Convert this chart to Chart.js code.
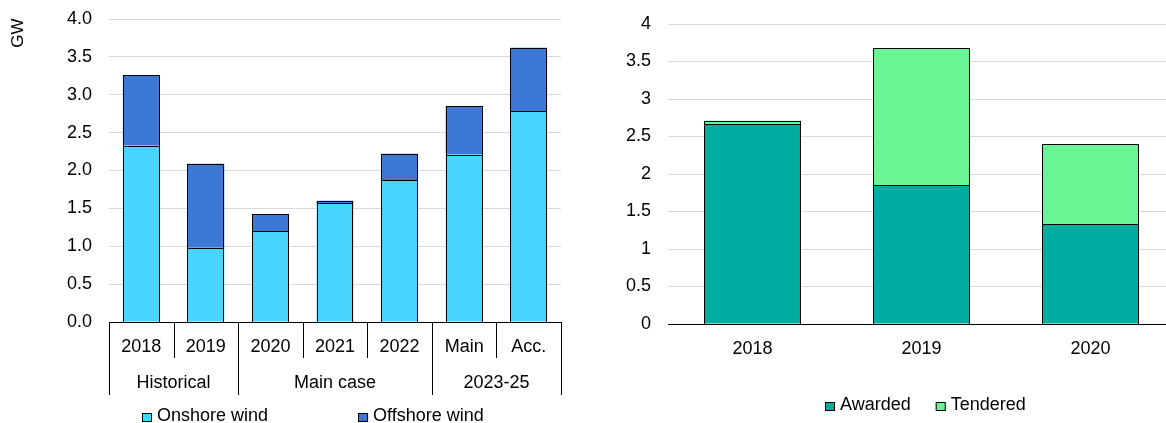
<!DOCTYPE html>
<html>
<head>
<meta charset="utf-8">
<title>Wind capacity and auctions</title>
<script src="https://cdn.jsdelivr.net/npm/chart.js@4.4.1/dist/chart.umd.min.js"></script>
<style>
    html, body { margin: 0; padding: 0; background: #fff; overflow: hidden; }
    body { width: 1166px; height: 423px; position: relative; }
    #windBox { position: absolute; left: 0; top: 0; width: 580px; height: 423px; }
    #auctionBox { position: absolute; left: 600px; top: 0; width: 600px; height: 423px; }
</style>
</head>
<body>
<div id="windBox"><canvas id="windChart"></canvas></div>
<div id="auctionBox"><canvas id="auctionChart"></canvas></div>
<script>
// Wind additions (GW)
const windCategories = ['2018', '2019', '2020', '2021', '2022', 'Main', 'Acc.'];
const windGroups = ['Historical', 'Main case', '2023-25'];
const windGroupSizes = [2, 3, 2];
const onshoreWind = [2.33, 0.98, 1.20, 1.57, 1.87, 2.21, 2.78];
const offshoreWind = [0.93, 1.11, 0.22, 0.03, 0.35, 0.64, 0.84];

// Auction volumes (GW)
const auctionYears = ['2018', '2019', '2020'];
const awarded = [2.66, 1.85, 1.33];
const tendered = [0.05, 1.83, 1.07];

const FONT = "'Liberation Sans', Arial, sans-serif";

// Crisp black outline around every bar segment
const barOutline = {
    id: 'barOutline',
    afterDatasetsDraw(chart) {
        const ctx = chart.ctx;
        ctx.save();
        ctx.strokeStyle = '#000';
        ctx.lineWidth = 1;
        chart.data.datasets.forEach(function(ds, i) {
            chart.getDatasetMeta(i).data.forEach(function(bar) {
                const p = bar.getProps(['x', 'y', 'base', 'width'], true);
                const left = Math.round(p.x - p.width / 2) + 0.5;
                const right = Math.round(p.x + p.width / 2) - 0.5;
                const top = Math.round(Math.min(p.y, p.base)) + 0.5;
                const bottom = Math.round(Math.max(p.y, p.base)) + 0.5;
                ctx.strokeRect(left, top, right - left, bottom - top);
            });
        });
        ctx.restore();
    }
};

// Two-row category axis: separators plus group names under the years
const groupAxis = {
    id: 'groupAxis',
    afterDraw(chart) {
        const x = chart.scales.x;
        const ctx = chart.ctx;
        const half = (x.getPixelForValue(1) - x.getPixelForValue(0)) / 2;
        const top = x.top;

        const edges = [0];
        let n = 0;
        windGroupSizes.forEach(function(s) { n += s; edges.push(n); });

        ctx.save();
        ctx.strokeStyle = '#000';
        ctx.lineWidth = 1;
        for (let i = 0; i <= windCategories.length; i++) {
            const px = Math.round(x.getPixelForValue(i) - half) + 0.5;
            const bottom = edges.includes(i) ? top + 73 : top + 36;
            ctx.beginPath();
            ctx.moveTo(px, top);
            ctx.lineTo(px, bottom);
            ctx.stroke();
        }

        ctx.fillStyle = '#000';
        ctx.font = '18px ' + FONT;
        ctx.textAlign = 'center';
        ctx.textBaseline = 'middle';
        let start = 0;
        windGroups.forEach(function(g, k) {
            const end = start + windGroupSizes[k];
            const cx = (x.getPixelForValue(start) + x.getPixelForValue(end - 1)) / 2;
            ctx.fillText(g, cx, top + 61);
            start = end;
        });
        ctx.restore();
    }
};

// Unit label in the top-left corner
const unitLabel = {
    id: 'unitLabel',
    afterDraw(chart, args, opts) {
        const ctx = chart.ctx;
        ctx.save();
        ctx.translate(opts.x, opts.y);
        ctx.rotate(-Math.PI / 2);
        ctx.fillStyle = '#000';
        ctx.font = '17px ' + FONT;
        ctx.textAlign = 'center';
        ctx.textBaseline = 'middle';
        ctx.fillText(opts.text, 0, 0);
        ctx.restore();
    }
};

// Small square legend in one row
const boxLegend = {
    id: 'boxLegend',
    afterDraw(chart, args, opts) {
        const ctx = chart.ctx;
        let x = opts.x;
        ctx.save();
        ctx.font = '18px ' + FONT;
        ctx.textBaseline = 'middle';
        ctx.textAlign = 'left';
        chart.data.datasets.forEach(function(ds) {
            ctx.fillStyle = ds.backgroundColor;
            ctx.fillRect(x, opts.y - 4, 10, 9);
            ctx.strokeStyle = '#000';
            ctx.lineWidth = 1;
            ctx.strokeRect(x + 0.5, opts.y - 3.5, 9, 8);
            ctx.fillStyle = '#000';
            ctx.fillText(ds.label, x + 15, opts.y - 1);
            x += 15 + ctx.measureText(ds.label).width + opts.gap;
        });
        ctx.restore();
    }
};

function stackedBarOptions(cfg) {
    return {
        responsive: true,
        maintainAspectRatio: false,
        animation: false,
        layout: {
            padding: { left: 0, right: cfg.right, top: cfg.top, bottom: cfg.bottom }
        },
        scales: {
            x: {
                stacked: true,
                grid: { display: false, drawTicks: false },
                border: { color: '#000', width: 1 },
                ticks: { padding: 14, maxRotation: 0, autoSkip: false, color: '#000' },
                afterFit: function(scale) { scale.height = 60; }
            },
            y: {
                stacked: true,
                min: 0,
                max: 4,
                grid: { color: '#d9d9d9', lineWidth: 1, drawTicks: false },
                border: { display: false },
                ticks: {
                    stepSize: 0.5,
                    padding: 17,
                    color: '#000',
                    callback: cfg.tickFormat
                },
                afterFit: function(scale) {
                    // fixed axis width; the top label may sit in the layout padding
                    scale.width = cfg.axisWidth;
                    scale.paddingTop = 0;
                    scale.paddingBottom = 0;
                }
            }
        },
        plugins: {
            legend: { display: false },
            tooltip: { enabled: false },
            boxLegend: cfg.legend,
            unitLabel: cfg.unit || false
        }
    };
}

document.addEventListener('DOMContentLoaded', function() {
    Chart.defaults.font.family = FONT;
    Chart.defaults.font.size = 18;
    Chart.defaults.color = '#000';

    const barStyle = {
        borderWidth: 0,
        inflateAmount: 0,
        categoryPercentage: 1,
        barPercentage: 0.57
    };

    // Wind capacity additions
    const windCtx = document.getElementById('windChart').getContext('2d');
    new Chart(windCtx, {
        type: 'bar',
        data: {
            labels: windCategories,
            datasets: [
                Object.assign({ label: 'Onshore wind', data: onshoreWind, backgroundColor: '#48d4ff' }, barStyle),
                Object.assign({ label: 'Offshore wind', data: offshoreWind, backgroundColor: '#3d79d4' }, barStyle)
            ]
        },
        options: stackedBarOptions({
            right: 19, top: 19, bottom: 41, axisWidth: 109,
            tickFormat: function(v) { return v.toFixed(1); },
            legend: { x: 142, y: 417, gap: 90 },
            unit: { x: 18, y: 33, text: 'GW' }
        }),
        plugins: [barOutline, groupAxis, boxLegend, unitLabel]
    });

    // Auction results
    const auctionCtx = document.getElementById('auctionChart').getContext('2d');
    new Chart(auctionCtx, {
        type: 'bar',
        data: {
            labels: auctionYears,
            datasets: [
                Object.assign({ label: 'Awarded', data: awarded, backgroundColor: '#00ada0' }, barStyle),
                Object.assign({ label: 'Tendered', data: tendered, backgroundColor: '#6af595' }, barStyle)
            ]
        },
        options: stackedBarOptions({
            right: 25, top: 24, bottom: 39, axisWidth: 68,
            tickFormat: function(v) { return String(v); },
            legend: { x: 225, y: 406, gap: 25 }
        }),
        plugins: [barOutline, boxLegend, unitLabel]
    });
});
</script>
</body>
</html>
